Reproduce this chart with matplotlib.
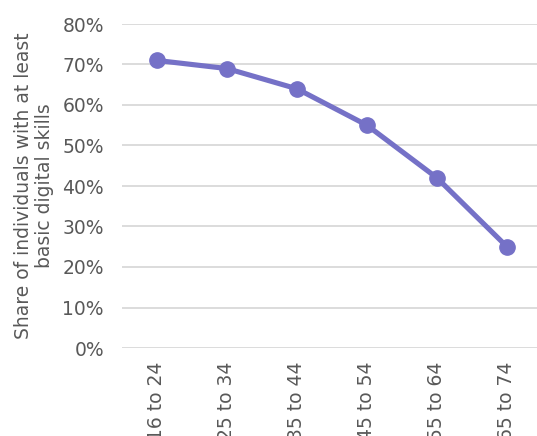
import matplotlib
matplotlib.use("Agg")
import matplotlib.pyplot as plt
from matplotlib.ticker import PercentFormatter

plt.rcParams["font.family"] = ["DejaVu Sans"]

categories = ["16 to 24", "25 to 34", "35 to 44", "45 to 54", "55 to 64", "65 to 74"]
values = [71, 69, 64, 55, 42, 25]
yticks = [0, 10, 20, 30, 40, 50, 60, 70, 80]

W, H = 537, 436
fig = plt.figure(figsize=(W / 100, H / 100), dpi=100)
left, right, top, bottom = 122, 537, 24, 348
ax = fig.add_axes([left / W, (H - bottom) / H, (right - left) / W, (bottom - top) / H])

color = "#7571C7"
txt = "#595959"
x = list(range(len(categories)))
ax.plot(x, values, color=color, lw=3.7, marker="o", markersize=11, solid_capstyle="round", zorder=3, clip_on=False)

ax.set_xlim(-0.5, -0.5 + (right - left) / 70)
ax.set_ylim(0, 80)
ax.set_yticks(yticks)
ax.yaxis.set_major_formatter(PercentFormatter(decimals=0))
ax.set_xticks(x)
ax.set_xticklabels(categories, rotation=90)
ax.grid(axis="y", color="#d9d9d9", lw=1.3)
ax.set_axisbelow(True)
for s in ax.spines.values():
    s.set_visible(False)
ax.tick_params(length=0, labelsize=13.5, labelcolor=txt)
ax.tick_params(axis="x", pad=10)
ax.tick_params(axis="y", pad=13)
ax.set_ylabel("Share of individuals with at least\nbasic digital skills", fontsize=13.5, color=txt, labelpad=6, linespacing=1.12)

fig.savefig("out.png", dpi=100)
